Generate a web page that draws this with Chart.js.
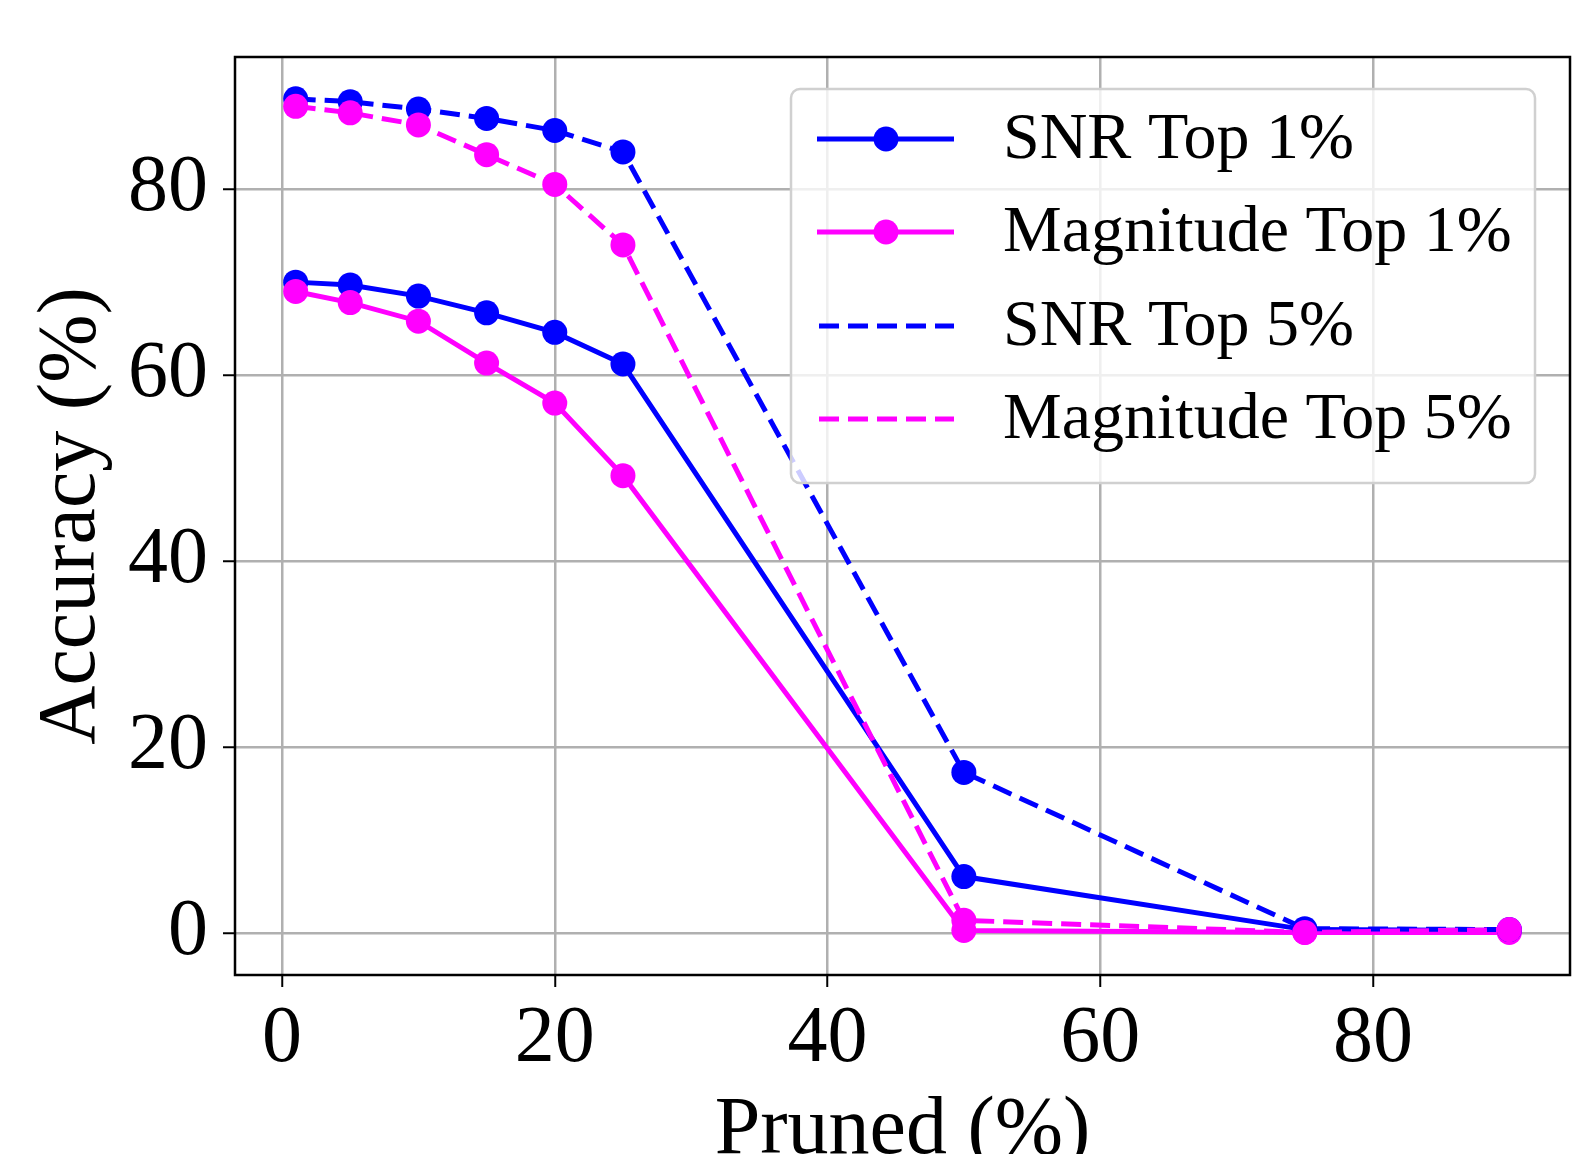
<!DOCTYPE html>
<html>
<head>
<meta charset="utf-8">
<script src="https://cdn.jsdelivr.net/npm/chart.js@4.4.1/dist/chart.umd.min.js"></script>
<style>
	html, body { margin: 0; padding: 0; background: #fff; }
	#wrap { width: 1572px; height: 1154px; }
</style>
</head>
<body>
<div id="wrap"><canvas id="myChart"></canvas></div>
<script>
// values
const pruned = [1, 5, 10, 15, 20, 25, 50, 75, 90];
const snrTop1 = [70.0, 69.7, 68.5, 66.7, 64.6, 61.2, 6.1, 0.4, 0.3];
const magTop1 = [69.0, 67.8, 65.8, 61.3, 57.0, 49.2, 0.3, 0.1, 0.1];
const snrTop5 = [89.7, 89.4, 88.6, 87.6, 86.3, 84.0, 17.3, 0.5, 0.4];
const magTop5 = [88.9, 88.2, 86.9, 83.7, 80.5, 74.0, 1.4, 0.1, 0.4];
const xTicks = [0, 20, 40, 60, 80];
const yTicks = [0, 20, 40, 60, 80];
const seriesNames = ['SNR Top 1%', 'Magnitude Top 1%', 'SNR Top 5%', 'Magnitude Top 5%'];

const FONT = "'Liberation Serif', 'DejaVu Serif', serif";
const BLUE = '#0000ff';
const MAGENTA = '#ff00ff';
const DASH = [20, 9];

function makeSet(label, values, color, dashed, order) {
	return {
		label: label,
		data: pruned.map((x, i) => ({ x: x, y: values[i] })),
		borderColor: color,
		backgroundColor: color,
		borderWidth: 5,
		borderDash: dashed ? DASH : [],
		borderCapStyle: 'butt',
		pointRadius: 12.5,
		pointHoverRadius: 12.5,
		pointBorderWidth: 0,
		pointBackgroundColor: color,
		tension: 0,
		order: order,
		legendMarker: !dashed
	};
}

// the scales should not push the plot area in
function noPadding(s) {
	s.paddingTop = 0;
	s.paddingBottom = 0;
	s.paddingLeft = 0;
	s.paddingRight = 0;
}

// legend box drawn inside the plot, matplotlib style
const legendBox = {
	id: 'legendBox',
	afterDraw(chart) {
		const ctx = chart.ctx;
		const x0 = 791, y0 = 89, w = 744, h = 394;
		ctx.save();
		ctx.beginPath();
		ctx.roundRect(x0, y0, w, h, 9);
		ctx.fillStyle = 'rgba(255,255,255,0.8)';
		ctx.fill();
		ctx.lineWidth = 2.5;
		ctx.strokeStyle = '#d0d0d0';
		ctx.stroke();
		const rows = [139, 232, 326, 419];
		chart.data.datasets.forEach((ds, i) => {
			const y = rows[i];
			ctx.beginPath();
			ctx.setLineDash(ds.borderDash);
			ctx.lineWidth = ds.borderWidth;
			ctx.strokeStyle = ds.borderColor;
			ctx.moveTo(ds.legendMarker ? 817 : 819, y);
			ctx.lineTo(954, y);
			ctx.stroke();
			ctx.setLineDash([]);
			if (ds.legendMarker) {
				ctx.beginPath();
				ctx.arc(886, y, 12.5, 0, Math.PI * 2);
				ctx.fillStyle = ds.borderColor;
				ctx.fill();
			}
			ctx.fillStyle = '#000';
			ctx.font = '66px ' + FONT;
			ctx.textBaseline = 'middle';
			ctx.textAlign = 'left';
			ctx.fillText(ds.label, 1003, y + 2);
		});
		ctx.restore();
	}
};

// black frame round the plot area
const frame = {
	id: 'frame',
	afterDatasetsDraw(chart) {
		const a = chart.chartArea;
		const ctx = chart.ctx;
		ctx.save();
		ctx.lineWidth = 2.5;
		ctx.strokeStyle = '#000';
		ctx.strokeRect(a.left, a.top, a.right - a.left, a.bottom - a.top);
		ctx.restore();
	}
};

const config = {
	type: 'line',
	data: {
		datasets: [
			makeSet(seriesNames[0], snrTop1, BLUE, false, 4),
			makeSet(seriesNames[1], magTop1, MAGENTA, false, 3),
			makeSet(seriesNames[2], snrTop5, BLUE, true, 2),
			makeSet(seriesNames[3], magTop5, MAGENTA, true, 1)
		]
	},
	options: {
		responsive: true,
		maintainAspectRatio: false,
		animation: false,
		events: [],
		layout: { autoPadding: false, padding: { top: 57, right: 2, left: 0, bottom: 0 } },
		plugins: {
			legend: { display: false },
			tooltip: { enabled: false }
		},
		scales: {
			x: {
				type: 'linear',
				min: -3.45,
				max: 94.45,
				afterBuildTicks: s => { s.ticks = xTicks.map(v => ({ value: v })); },
				afterFit: s => { s.height = 179; noPadding(s); },
				grid: {
					color: '#b0b0b0',
					lineWidth: 2.5,
					tickColor: '#000',
					tickLength: 12,
					tickWidth: 2
				},
				border: { display: false },
				ticks: {
					color: '#000',
					padding: 5,
					maxRotation: 0,
					font: { family: FONT, size: 80 }
				},
				title: {
					display: true,
					text: 'Pruned (%)',
					color: '#000',
					font: { family: FONT, size: 82 },
					padding: { top: 0, bottom: -27 }
				}
			},
			y: {
				type: 'linear',
				min: -4.48,
				max: 94.2,
				afterBuildTicks: s => { s.ticks = yTicks.map(v => ({ value: v })); },
				afterFit: s => { s.width = 235; noPadding(s); },
				grid: {
					color: '#b0b0b0',
					lineWidth: 2.5,
					tickColor: '#000',
					tickLength: 12,
					tickWidth: 2
				},
				border: { display: false },
				ticks: {
					color: '#000',
					padding: 15,
					font: { family: FONT, size: 80 }
				},
				title: {
					display: true,
					text: 'Accuracy (%)',
					color: '#000',
					font: { family: FONT, size: 82 },
					padding: { top: 23, bottom: 0 }
				}
			}
		}
	},
	plugins: [frame, legendBox]
};

var myChart = new Chart(document.getElementById('myChart'), config);
</script>
</body>
</html>
